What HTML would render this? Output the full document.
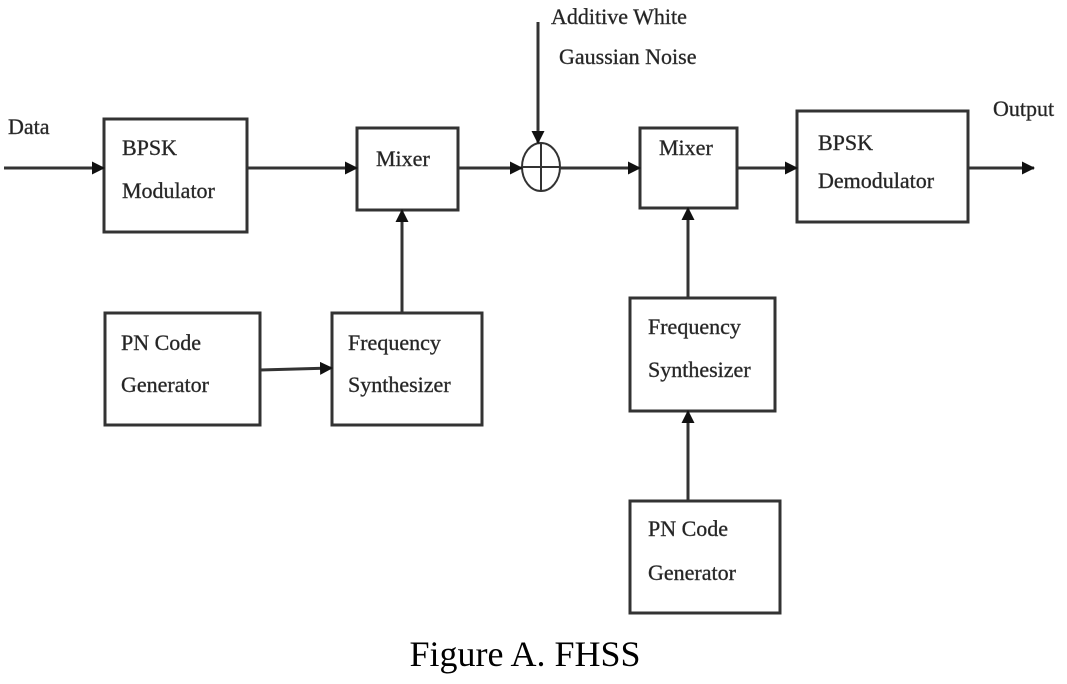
<!DOCTYPE html>
<html><head><style>
html,body{margin:0;padding:0;background:#fff;}
svg text{font-family:"Liberation Serif",serif;fill:#222;}
</style></head><body>
<svg width="1067" height="679" viewBox="0 0 1067 679" xmlns="http://www.w3.org/2000/svg">
<defs><marker id="a" markerWidth="13" markerHeight="13" refX="12" refY="6.5" orient="auto" markerUnits="userSpaceOnUse"><path d="M0,0 L13,6.5 L0,13 z" fill="#111"/></marker></defs>
<g fill="none" stroke="#333" stroke-width="3">
<rect x="104" y="119" width="143" height="113"/>
<rect x="357" y="128" width="101" height="82"/>
<rect x="105" y="313" width="155" height="112"/>
<rect x="332" y="313" width="150" height="112"/>
<rect x="640" y="128" width="97" height="80"/>
<rect x="797" y="111" width="171" height="111"/>
<rect x="630" y="298" width="145" height="113"/>
<rect x="630" y="501" width="150" height="112"/>
<ellipse cx="541" cy="167" rx="19" ry="24" stroke-width="2"/>
<line x1="522" y1="167" x2="560" y2="167" stroke-width="2"/>
<line x1="541" y1="143" x2="541" y2="191" stroke-width="2"/>
<line x1="4" y1="168" x2="104" y2="168" marker-end="url(#a)"/>
<line x1="247" y1="168" x2="357" y2="168" marker-end="url(#a)"/>
<line x1="458" y1="168" x2="522" y2="168" marker-end="url(#a)"/>
<line x1="560" y1="168" x2="640" y2="168" marker-end="url(#a)"/>
<line x1="737" y1="168" x2="797" y2="168" marker-end="url(#a)"/>
<line x1="968" y1="168" x2="1034" y2="168" marker-end="url(#a)"/>
<line x1="538" y1="22" x2="538" y2="143" marker-end="url(#a)"/>
<line x1="402" y1="313" x2="402" y2="210" marker-end="url(#a)"/>
<line x1="260" y1="370" x2="332" y2="368" marker-end="url(#a)"/>
<line x1="688" y1="298" x2="688" y2="208" marker-end="url(#a)"/>
<line x1="688" y1="501" x2="688" y2="411" marker-end="url(#a)"/>
</g>
<g font-size="22" style="stroke:#444;stroke-width:0.4">
<text x="8" y="134">Data</text>
<text x="122" y="155">BPSK</text>
<text x="122" y="198">Modulator</text>
<text x="376" y="166">Mixer</text>
<text x="121" y="350">PN Code</text>
<text x="121" y="392">Generator</text>
<text x="348" y="350">Frequency</text>
<text x="348" y="392">Synthesizer</text>
<text x="551" y="24">Additive White</text>
<text x="559" y="64">Gaussian Noise</text>
<text x="659" y="155">Mixer</text>
<text x="818" y="150">BPSK</text>
<text x="818" y="188">Demodulator</text>
<text x="993" y="116">Output</text>
<text x="648" y="334">Frequency</text>
<text x="648" y="377">Synthesizer</text>
<text x="648" y="536">PN Code</text>
<text x="648" y="580">Generator</text>
</g>
<text x="525" y="666" font-size="36" text-anchor="middle" style="fill:#000">Figure A. FHSS</text>
</svg>
</body></html>
